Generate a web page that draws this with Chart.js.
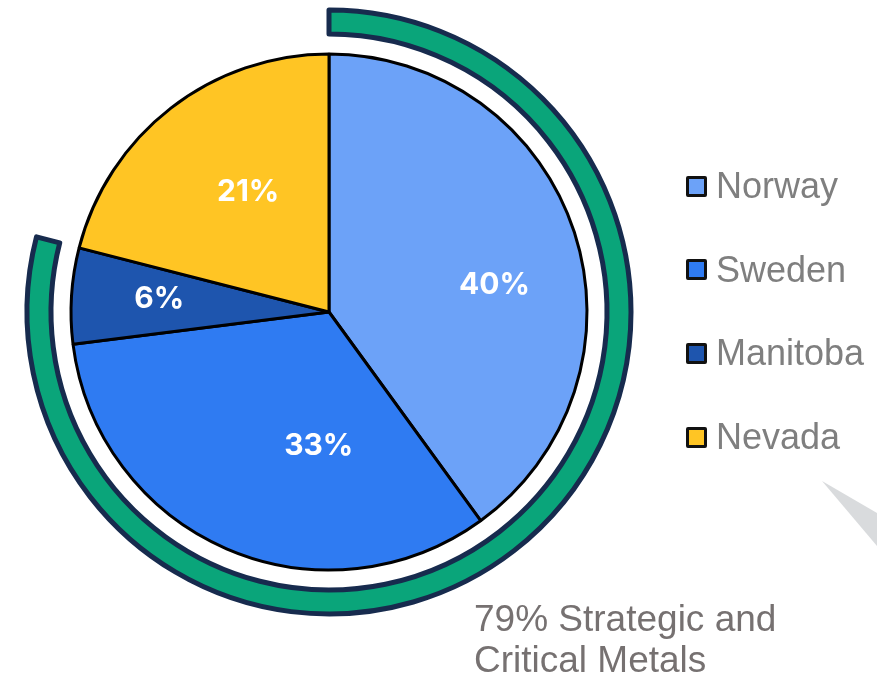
<!DOCTYPE html>
<html>
<head>
<meta charset="utf-8">
<script src="https://cdn.jsdelivr.net/npm/chart.js@4/dist/chart.umd.min.js"></script>
<style>
  html, body { margin: 0; padding: 0; background: #fff; }
  #wrap { position: relative; width: 877px; height: 677px; overflow: hidden; }
  #chart { position: absolute; left: 0; top: 0; }
  .legend-item {
    position: absolute; left: 686px; height: 36px;
    display: flex; align-items: center;
    font: 36px "Liberation Sans", Arial, sans-serif; line-height: 36px; color: #7f7f7f;
  }
  .legend-box {
    box-sizing: border-box; width: 21px; height: 21px; margin-right: 9px;
    border: 3px solid #111; border-radius: 2px;
  }
  #caption {
    position: absolute; left: 474px; top: 598px;
    font: 37px "Liberation Sans", Arial, sans-serif; line-height: 41px; color: #767171;
  }
  #shade {
    position: absolute; left: 820px; top: 478px; width: 57px; height: 72px;
    background: #d9dbdd;
    clip-path: polygon(2px 3px, 57px 35px, 57px 68px);
  }
</style>
</head>
<body>
<div id="wrap">
  <canvas id="chart" width="877" height="677"></canvas>
  <div id="shade"></div>
  <div id="legend"></div>
  <div id="caption"></div>
</div>
<script>
const regions = ['Norway', 'Sweden', 'Manitoba', 'Nevada'];
const shares = [40, 33, 6, 21];
const sliceColors = ['#6ca2f8', '#2f7bf2', '#1e55ae', '#ffc524'];
const strategicShare = 79;
const captionLines = ['79% Strategic and', 'Critical Metals'];

// where each percent label sits: [fraction along the slice, fraction of radius]
const labelAnchors = [[0.56, 0.65], [0.34, 0.52], [0.53, 0.66], [0.55, 0.56]];

const sliceLabels = {
  id: 'sliceLabels',
  afterDatasetsDraw(chart) {
    const { ctx } = chart;
    const meta = chart.getDatasetMeta(2);
    ctx.save();
    ctx.fillStyle = '#ffffff';
    ctx.font = '700 30px Inter, "Open Sans", sans-serif';
    ctx.textAlign = 'center';
    ctx.textBaseline = 'middle';
    meta.data.forEach((arc, i) => {
      const { x, y, startAngle, endAngle, outerRadius } = arc.getProps(['x', 'y', 'startAngle', 'endAngle', 'outerRadius'], true);
      const [along, out] = labelAnchors[i];
      const a = startAngle + (endAngle - startAngle) * along;
      ctx.fillText(shares[i] + '%', x + Math.cos(a) * outerRadius * out, y + Math.sin(a) * outerRadius * out);
    });
    ctx.restore();
  },
};

new Chart(document.getElementById('chart'), {
  type: 'pie',
  plugins: [sliceLabels],
  data: {
    labels: regions,
    datasets: [
      {
        // outer band for strategic and critical metals
        data: [strategicShare, 100 - strategicShare],
        backgroundColor: ['#0aa57a', 'rgba(0,0,0,0)'],
        borderColor: ['#172b4e', 'rgba(0,0,0,0)'],
        borderWidth: [5, 0],
        borderJoinStyle: 'round',
        weight: 24,
      },
      {
        // white gap between band and pie
        data: [1],
        backgroundColor: 'rgba(0,0,0,0)',
        borderWidth: 0,
        weight: 20,
      },
      {
        data: shares,
        backgroundColor: sliceColors,
        borderColor: '#000000',
        borderWidth: 3,
        weight: 258,
      },
    ],
  },
  options: {
    responsive: false,
    animation: false,
    events: [],
    radius: 302,
    layout: { padding: { left: 19, right: 238, top: 2, bottom: 55 } },
    plugins: {
      legend: { display: false },
      tooltip: { enabled: false },
    },
  },
});

const legend = document.getElementById('legend');
regions.forEach((name, i) => {
  const item = document.createElement('div');
  item.className = 'legend-item';
  item.style.top = (168 + i * 83.7) + 'px';
  const box = document.createElement('div');
  box.className = 'legend-box';
  box.style.background = sliceColors[i];
  const text = document.createElement('span');
  text.textContent = name;
  item.appendChild(box);
  item.appendChild(text);
  legend.appendChild(item);
});

document.getElementById('caption').innerHTML = captionLines.join('<br>');
</script>
</body>
</html>
